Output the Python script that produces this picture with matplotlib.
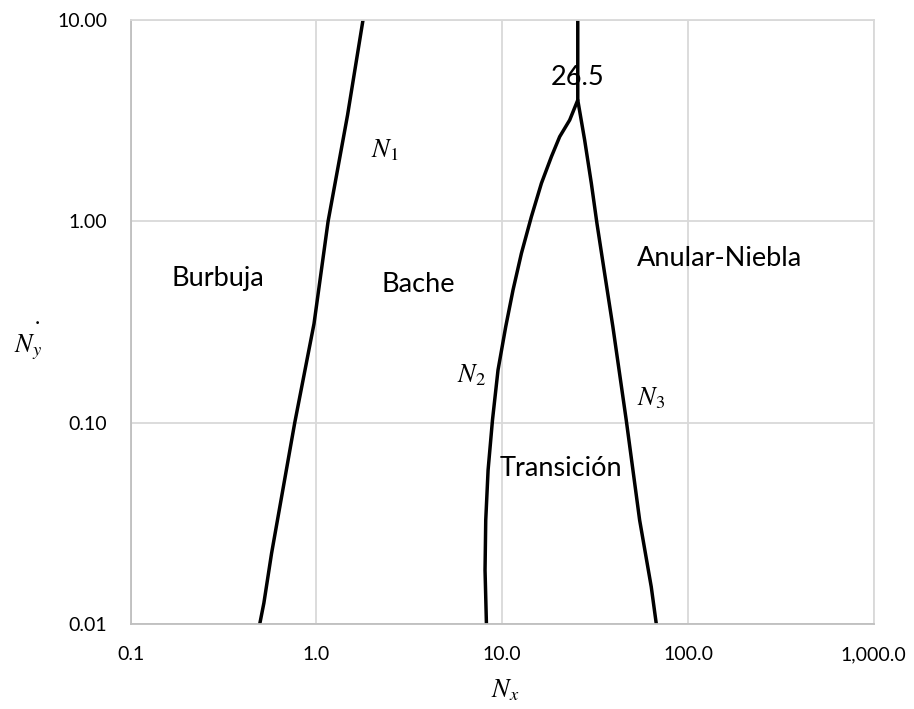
import matplotlib
matplotlib.use("Agg")
import matplotlib.pyplot as plt
from matplotlib.ticker import FixedLocator, FixedFormatter, NullLocator

# ---- data ----
n1_x = [0.495, 0.521, 0.573, 0.764, 0.97, 1.155, 1.47, 1.78]
n1_y = [0.01, 0.0127, 0.0224, 0.1, 0.31, 1.0, 3.37, 10.0]

n2_x = [8.22, 8.08, 8.15, 8.39, 8.86, 9.49, 10.44, 11.43, 12.68, 14.35,
        16.25, 18.39, 20.38, 23.07, 25.5]
n2_y = [0.01, 0.0185, 0.0328, 0.0581, 0.103, 0.1826, 0.2996, 0.456, 0.693, 1.054,
        1.545, 2.094, 2.633, 3.185, 4.0]

n3_x = [25.5, 25.5, 27.77, 30.17, 32.34, 35.57, 39.4, 46.5, 54.9, 63.4, 67.5]
n3_y = [10.0, 4.0, 2.534, 1.545, 0.977, 0.5516, 0.2996, 0.103, 0.0328, 0.0153, 0.01]

x_ticks = [0.1, 1, 10, 100, 1000]
x_tick_labels = ["0.1", "1.0", "10.0", "100.0", "1,000.0"]
y_ticks = [0.01, 0.1, 1, 10]
y_tick_labels = ["0.01", "0.10", "1.00", "10.00"]

region_labels = ["Burbuja", "Bache", "Anular-Niebla", "Transición", "26.5"]
region_x = [0.294, 3.52, 147, 20.7, 25.3]
region_y = [0.521, 0.483, 0.654, 0.0593, 5.2]

curve_labels = [r"$N_1$", r"$N_2$", r"$N_3$"]
curve_lx = [2.33, 6.8, 63.2]
curve_ly = [2.26, 0.172, 0.132]

plt.rcParams["mathtext.fontset"] = "stix"
plt.rcParams["font.family"] = ["Lato", "DejaVu Sans"]

fig = plt.figure(figsize=(9.14, 7.09), dpi=100)
ax = fig.add_axes([0.143, 0.1199, 0.813, 0.8519])
ax.set_xscale("log")
ax.set_yscale("log")
ax.set_xlim(0.1, 1000)
ax.set_ylim(0.01, 10)

grid_c = "#d9d9d9"
ax.xaxis.set_major_locator(FixedLocator(x_ticks))
ax.xaxis.set_major_formatter(FixedFormatter(x_tick_labels))
ax.yaxis.set_major_locator(FixedLocator(y_ticks))
ax.yaxis.set_major_formatter(FixedFormatter(y_tick_labels))
ax.xaxis.set_minor_locator(NullLocator())
ax.yaxis.set_minor_locator(NullLocator())
ax.grid(True, which="major", color=grid_c, linewidth=1.3)
ax.set_axisbelow(True)
ax.tick_params(length=0, labelsize=14, colors="#000000")
ax.tick_params(axis="x", pad=16)
ax.tick_params(axis="y", pad=17)
for s in ["top", "right"]:
    ax.spines[s].set_color(grid_c)
    ax.spines[s].set_linewidth(1.3)
for s in ["left", "bottom"]:
    ax.spines[s].set_color("#bfbfbf")
    ax.spines[s].set_linewidth(1.3)

lw = 2.5
for xs, ys in [(n1_x, n1_y), (n2_x, n2_y), (n3_x, n3_y)]:
    ax.plot(xs, ys, color="black", lw=lw, solid_capstyle="round",
            solid_joinstyle="round")

for t, x, y in zip(region_labels, region_x, region_y):
    ax.text(x, y, t, fontsize=19.5, ha="center", va="center")
for t, x, y in zip(curve_labels, curve_lx, curve_ly):
    ax.text(x, y, t, fontsize=19, ha="center", va="center")

fig.text(505 / 914, 1 - 690 / 709, r"$N_x$", fontsize=19, ha="center", va="center")
fig.text(28 / 914, 1 - 347 / 709, r"$N_y$", fontsize=19, ha="center", va="center")
fig.text(37 / 914, 1 - 318 / 709, ".", fontsize=16, ha="center", va="center")

fig.savefig("out.png", dpi=100)
